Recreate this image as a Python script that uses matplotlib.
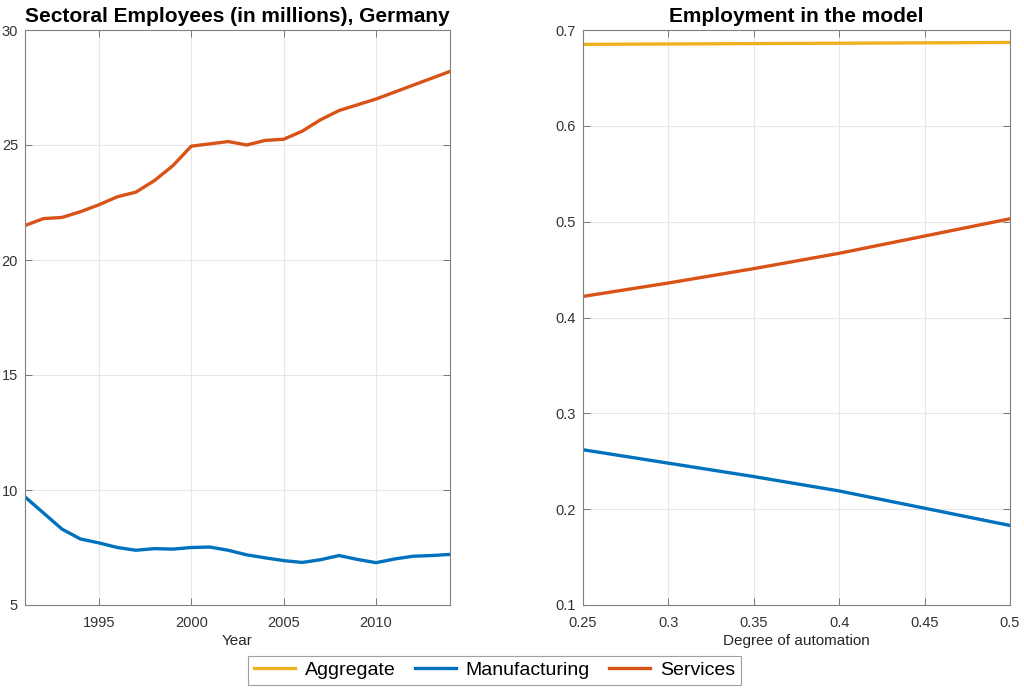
import matplotlib.pyplot as plt
import numpy as np

plt.rcParams['font.family'] = ['Liberation Sans', 'DejaVu Sans']

# Data Germany
years = list(range(1991, 2015))
services_de = [21.5, 21.8, 21.85, 22.1, 22.4, 22.75, 22.95, 23.45, 24.1, 24.95,
               25.05, 25.15, 25.0, 25.2, 25.25, 25.6, 26.1, 26.5, 26.75, 27.0,
               27.3, 27.6, 27.9, 28.2]
manuf_de = [9.7, 9.0, 8.3, 7.87, 7.7, 7.5, 7.38, 7.45, 7.43, 7.5,
            7.52, 7.38, 7.18, 7.05, 6.93, 6.85, 6.97, 7.15, 6.98, 6.84,
            7.0, 7.12, 7.15, 7.2]

# Model
automation = [0.25, 0.30, 0.35, 0.40, 0.45, 0.50]
aggregate = [0.685, 0.6854, 0.6858, 0.6862, 0.6866, 0.687]
services_m = [0.422, 0.436, 0.451, 0.467, 0.485, 0.503]
manuf_m = [0.262, 0.248, 0.234, 0.219, 0.201, 0.183]

c_agg = '#EDB120'
c_man = '#0072BD'
c_ser = '#D95319'
lw = 2.4

fig = plt.figure(figsize=(10.24, 6.88), dpi=100)
ax1 = fig.add_axes([25/1024, 83/688, 425/1024, 575/688])
ax2 = fig.add_axes([583/1024, 83/688, 427/1024, 575/688])

ax1.plot(years, services_de, color=c_ser, lw=lw)
ax1.plot(years, manuf_de, color=c_man, lw=lw)
ax1.set_xlim(1991, 2014)
ax1.set_ylim(5, 30)
ax1.set_xticks([1995, 2000, 2005, 2010])
ax1.set_yticks([5, 10, 15, 20, 25, 30])
ax1.set_xlabel('Year', fontsize=11, color='#262626', labelpad=3)
ax1.set_title('Sectoral Employees (in millions), Germany', fontsize=15, fontweight='bold', pad=6)

l1, = ax2.plot(automation, aggregate, color=c_agg, lw=lw)
l2, = ax2.plot(automation, manuf_m, color=c_man, lw=lw)
l3, = ax2.plot(automation, services_m, color=c_ser, lw=lw)
ax2.set_xlim(0.25, 0.5)
ax2.set_ylim(0.1, 0.7)
ax2.set_xticks([0.25, 0.3, 0.35, 0.4, 0.45, 0.5])
ax2.set_xticklabels(['0.25', '0.3', '0.35', '0.4', '0.45', '0.5'])
ax2.set_yticks([0.1, 0.2, 0.3, 0.4, 0.5, 0.6, 0.7])
ax2.set_xlabel('Degree of automation', fontsize=11, color='#262626', labelpad=3)
ax2.set_title('Employment in the model', fontsize=15, fontweight='bold', pad=6)

for ax in (ax1, ax2):
    ax.grid(True, color='#e6e6e6', lw=0.8)
    ax.set_axisbelow(True)
    ax.tick_params(direction='in', top=True, right=True, labelsize=10.5,
                   labelcolor='#333333', length=5, width=0.6, color='#666666')
    ax.tick_params(axis='x', pad=8)
    ax.tick_params(axis='y', pad=5)
    for s in ax.spines.values():
        s.set_color('#808080')
        s.set_linewidth(0.8)

leg = fig.legend([l1, l2, l3], ['Aggregate', 'Manufacturing', 'Services'],
                 loc='lower center', bbox_to_anchor=(0.483, -0.004), ncol=3,
                 fontsize=14, frameon=True, fancybox=False, handlelength=2.1,
                 handletextpad=0.5, columnspacing=1.0, borderpad=0.3,
                 borderaxespad=0.3)
leg.get_frame().set_edgecolor('#888888')
leg.get_frame().set_linewidth(0.8)

fig.savefig('out.png', dpi=100)
